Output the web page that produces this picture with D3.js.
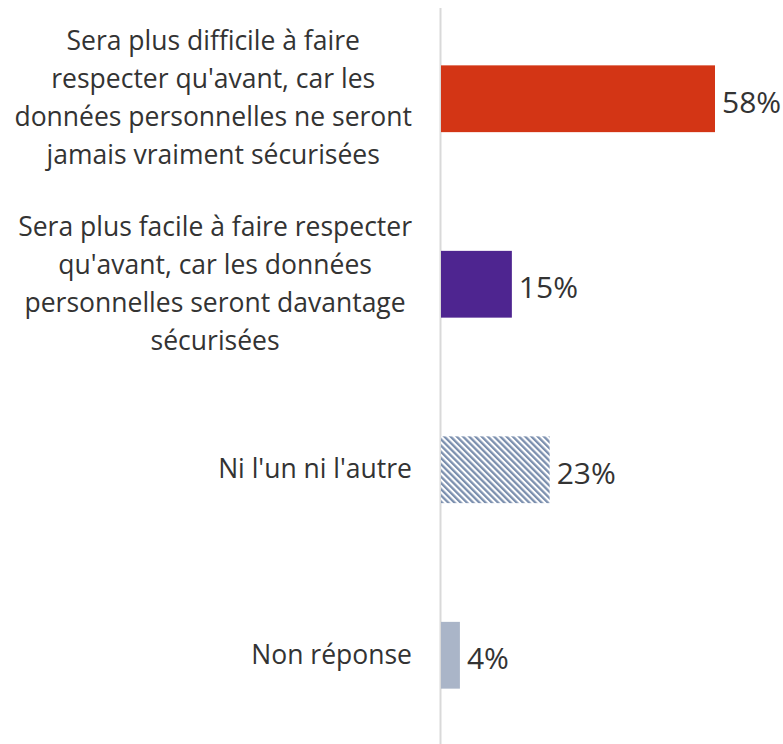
<!DOCTYPE html>
<html>
<head>
<meta charset="utf-8">
<script src="https://cdn.jsdelivr.net/npm/d3@7"></script>
<style>
  body { margin: 0; background: #fff; }
  svg text { font-family: "Open Sans", "Noto Sans", sans-serif; fill: #333; }
</style>
</head>
<body>
<svg id="canvas" width="783" height="744"></svg>
<script>
let categories = [
  ['Sera plus difficile à faire', "respecter qu'avant, car les", 'données personnelles ne seront', 'jamais vraiment sécurisées'],
  ['Sera plus facile à faire respecter', "qu'avant, car les données", 'personnelles seront davantage', 'sécurisées'],
  ["Ni l'un ni l'autre"],
  ['Non réponse']
]
let values = [58, 15, 23, 4]
let valueLabels = ['58%', '15%', '23%', '4%']
let fills = ['#d33515', '#4e2590', 'url(#hatch)', '#aab5c8']

let canvas = d3.select('#canvas')

let defs = canvas.append('defs')
let hatch = defs.append('pattern')
                .attr('id', 'hatch')
                .attr('patternUnits', 'userSpaceOnUse')
                .attr('width', 4.4)
                .attr('height', 4.4)
                .attr('patternTransform', 'rotate(-45)')
hatch.append('rect').attr('width', 4.4).attr('height', 4.4).attr('fill', '#fff')
hatch.append('rect').attr('width', 2.3).attr('height', 4.4).attr('fill', '#7b8fae')

let xScale = d3.scaleLinear()
               .domain([0, 58])
               .range([441, 715])

let yScale = d3.scaleBand()
               .domain(d3.range(values.length))
               .range([6, 748])
               .paddingInner(0.64)
               .paddingOuter(0.32)

// axis line
canvas.append('line')
      .attr('x1', 440.5).attr('x2', 440.5)
      .attr('y1', 8).attr('y2', 744)
      .attr('stroke', '#d9d9d9')
      .attr('stroke-width', 2)

canvas.selectAll('.bar')
      .data(values)
      .enter()
      .append('rect')
      .attr('class', 'bar')
      .attr('x', xScale(0))
      .attr('y', (d, i) => yScale(i))
      .attr('width', (d) => xScale(d) - xScale(0))
      .attr('height', yScale.bandwidth())
      .attr('fill', (d, i) => fills[i])

canvas.selectAll('.value')
      .data(values)
      .enter()
      .append('text')
      .attr('class', 'value')
      .attr('x', (d) => xScale(d) + 7)
      .attr('y', (d, i) => yScale(i) + yScale.bandwidth() / 2)
      .attr('dy', '0.47em')
      .attr('font-size', 30)
      .text((d, i) => valueLabels[i])

let lineHeight = 38
let labelRight = 412

categories.forEach((lines, i) => {
  let center = yScale(i) + yScale.bandwidth() / 2
  let g = canvas.append('g')
  let texts = lines.map((line, j) => {
    return g.append('text')
            .attr('text-anchor', 'end')
            .attr('font-size', 26.5)
            .attr('y', center + (j - (lines.length - 1) / 2) * lineHeight)
            .attr('dy', '0.33em')
            .text(line)
  })
  let widths = texts.map((t) => t.node().getComputedTextLength())
  let maxW = d3.max(widths)
  texts.forEach((t, j) => {
    t.attr('x', labelRight - (maxW - widths[j]) / 2)
  })
})
</script>
</body>
</html>
